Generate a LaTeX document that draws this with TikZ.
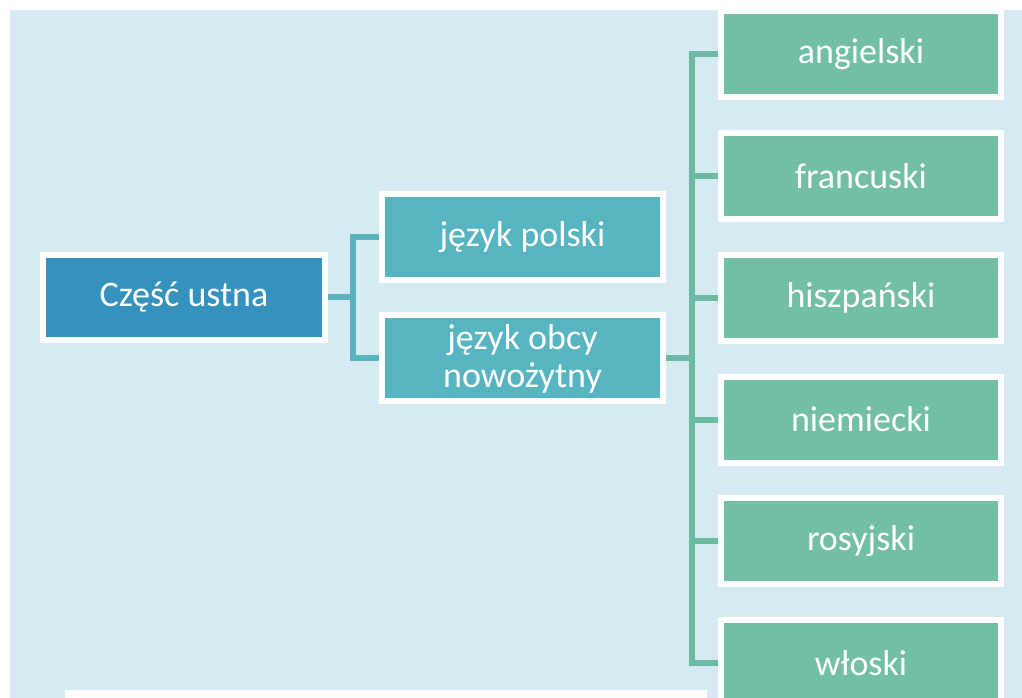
\documentclass[tikz,border=0pt]{standalone}
\usepackage{fontspec}
\setmainfont{Carlito}
\usepackage{xcolor}

\definecolor{bgblue}{RGB}{213,234,242}
\definecolor{topblue}{RGB}{53,146,190}
\definecolor{midteal}{RGB}{86,181,192}
\definecolor{langgreen}{RGB}{115,190,166}
\definecolor{tealline}{RGB}{90,180,190}
\definecolor{greenline}{RGB}{108,186,162}

\tikzset{
  tilebox/.style={draw=white, line width=4.5pt, outer sep=2.25pt, text=white,
    align=center, inner sep=0pt, font=\fontsize{27}{28.5}\selectfont},
  toptile/.style={tilebox, fill=topblue, minimum width=211.5pt, minimum height=63.75pt},
  midtile/.style={tilebox, fill=midteal, minimum width=210.75pt, minimum height=64.5pt},
  langtile/.style={tilebox, fill=langgreen, minimum width=210pt, minimum height=64.5pt},
  teallink/.style={draw=tealline, line width=4.5pt},
  greenlink/.style={draw=greenline, line width=4.5pt}
}

\begin{document}
\begin{tikzpicture}[x=0.75pt,y=0.75pt,yscale=-1,xscale=1]

\useasboundingbox (0,0) rectangle (1022,698);
\fill [white] (0,0) rectangle (1022,698);
\fill [bgblue] (10,10) rectangle (1022,698);
\fill [white] (65,690) rectangle (707,698);

% boxes
\node [toptile] (czesc) at (184,297.5) {Część ustna};
\node [midtile] (polski) at (522.5,237) {język polski};
\node [midtile] (obcy) at (522.5,358.5) {język obcy\\nowożytny};

\node [langtile] (ang) at (861,54.5) {angielski};
\node [langtile] (fra) at (861,176.2) {francuski};
\node [langtile] (his) at (861,297.9) {hiszpański};
\node [langtile] (nie) at (861,419.6) {niemiecki};
\node [langtile] (ros) at (861,541.3) {rosyjski};
\node [langtile] (wlo) at (861,663) {włoski};

% connectors
\coordinate (fork1) at (353,297.5);
\coordinate (fork2) at (692,358.5);
\draw [teallink] (czesc.east) -- (fork1);
\draw [teallink] (polski.west) -| (fork1) |- (obcy.west);
\draw [greenlink] (obcy.east) -- (fork2);
\draw [greenlink] (ang.west) -| (fork2) |- (wlo.west);
\foreach \lang in {fra,his,nie,ros}
  \draw [greenlink] (\lang.west) -- (\lang.west -| fork2);

\end{tikzpicture}
\end{document}
